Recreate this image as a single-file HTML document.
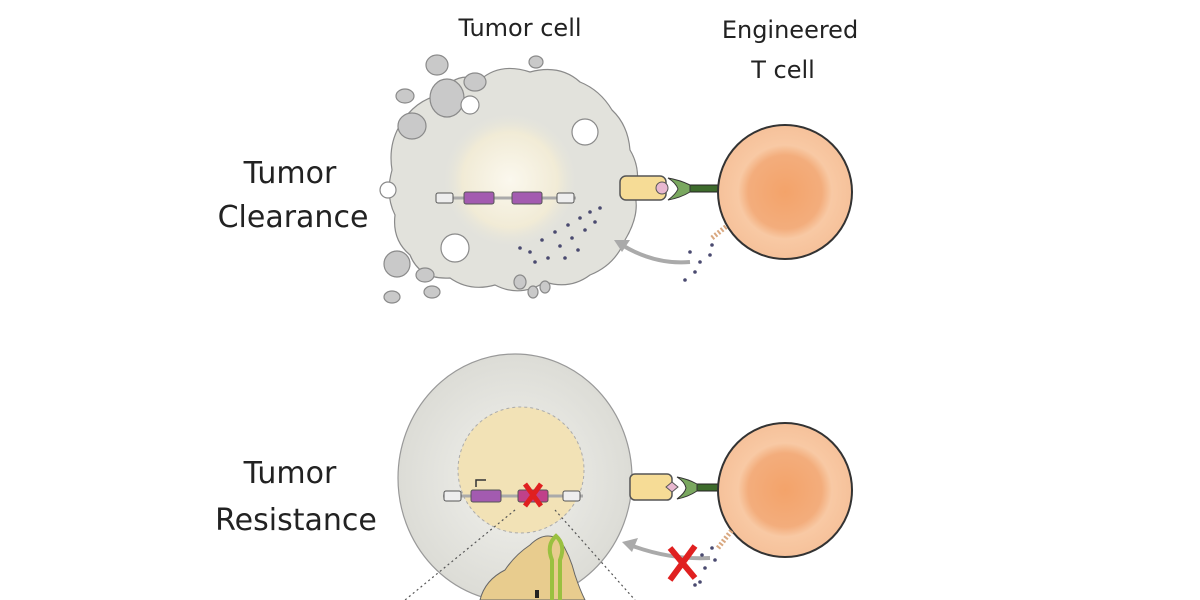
<!DOCTYPE html>
<html><head><style>
html,body{margin:0;padding:0;background:#fff;}
svg{display:block;}
text{font-family:"DejaVu Sans","Liberation Sans",sans-serif;fill:#222;}
</style></head><body>
<svg width="1200" height="600" viewBox="0 0 1200 600" xmlns="http://www.w3.org/2000/svg">
<defs>
<radialGradient id="nuc" cx="50%" cy="50%" r="50%">
<stop offset="0" stop-color="#fbf8ee"/><stop offset="0.7" stop-color="#f1ebd6"/><stop offset="1" stop-color="#e4e4dc" stop-opacity="0"/>
</radialGradient>
<radialGradient id="tc" cx="50%" cy="50%" r="50%">
<stop offset="0" stop-color="#f3a36a"/><stop offset="0.55" stop-color="#f3ad7c"/><stop offset="0.7" stop-color="#f8c9a4"/><stop offset="1" stop-color="#f6c19a"/>
</radialGradient>
<radialGradient id="cell2" cx="50%" cy="50%" r="50%">
<stop offset="0" stop-color="#f2f2ee"/><stop offset="1" stop-color="#dcdcd6"/>
</radialGradient>
</defs>

<!-- labels -->
<text x="520" y="36" font-size="24" text-anchor="middle">Tumor cell</text>
<text x="790" y="38" font-size="24" text-anchor="middle">Engineered</text>
<text x="783" y="78" font-size="24" text-anchor="middle">T cell</text>
<text x="290" y="183" font-size="30" text-anchor="middle">Tumor</text>
<text x="293" y="227" font-size="30" text-anchor="middle">Clearance</text>
<text x="290" y="483" font-size="30" text-anchor="middle">Tumor</text>
<text x="296" y="530" font-size="30" text-anchor="middle">Resistance</text>

<!-- TOP tumor cell -->
<g stroke="#8a8a8a" stroke-width="1.2">
<path d="M440,95 Q455,70 480,80 Q500,62 530,72 Q560,64 580,82 Q600,90 612,110 Q628,125 630,150 Q642,170 635,195 Q640,215 625,240 Q615,265 590,275 Q570,290 545,282 Q520,298 495,285 Q470,292 450,278 Q420,280 410,255 Q392,240 395,215 Q385,195 392,170 Q388,145 400,125 Q415,100 440,95Z" fill="#e2e2dc"/>
<circle cx="510" cy="180" r="68" fill="url(#nuc)" stroke="none"/>
<g fill="#c9c9c9">
<ellipse cx="437" cy="65" rx="11" ry="10"/><ellipse cx="405" cy="96" rx="9" ry="7"/>
<ellipse cx="447" cy="98" rx="17" ry="19"/><ellipse cx="412" cy="126" rx="14" ry="13"/>
<ellipse cx="475" cy="82" rx="11" ry="9"/><ellipse cx="536" cy="62" rx="7" ry="6"/>
<ellipse cx="397" cy="264" rx="13" ry="13"/><ellipse cx="425" cy="275" rx="9" ry="7"/>
<ellipse cx="432" cy="292" rx="8" ry="6"/><ellipse cx="392" cy="297" rx="8" ry="6"/>
<ellipse cx="520" cy="282" rx="6" ry="7"/><ellipse cx="533" cy="292" rx="5" ry="6"/><ellipse cx="545" cy="287" rx="5" ry="6"/>
</g>
<g fill="#fff">
<circle cx="585" cy="132" r="13"/><circle cx="455" cy="248" r="14"/><circle cx="388" cy="190" r="8"/><circle cx="470" cy="105" r="9"/>
</g>
</g>
<!-- top gene -->
<line x1="436" y1="198" x2="576" y2="198" stroke="#aaa" stroke-width="3"/>
<rect x="436" y="193" width="17" height="10" rx="2" fill="#eee" stroke="#555"/>
<rect x="464" y="192" width="30" height="12" rx="2" fill="#a35bb0" stroke="#555"/>
<rect x="512" y="192" width="30" height="12" rx="2" fill="#a35bb0" stroke="#555"/>
<rect x="557" y="193" width="17" height="10" rx="2" fill="#eee" stroke="#555"/>
<!-- dots top -->
<g fill="#4a4a70">
<circle cx="520" cy="248" r="1.8"/><circle cx="530" cy="252" r="1.8"/><circle cx="542" cy="240" r="1.8"/><circle cx="555" cy="232" r="1.8"/><circle cx="568" cy="225" r="1.8"/><circle cx="580" cy="218" r="1.8"/><circle cx="590" cy="212" r="1.8"/><circle cx="600" cy="208" r="1.8"/><circle cx="572" cy="238" r="1.8"/><circle cx="585" cy="230" r="1.8"/><circle cx="560" cy="246" r="1.8"/><circle cx="548" cy="258" r="1.8"/><circle cx="535" cy="262" r="1.8"/><circle cx="595" cy="222" r="1.8"/><circle cx="565" cy="258" r="1.8"/><circle cx="578" cy="250" r="1.8"/>
<circle cx="690" cy="252" r="1.8"/><circle cx="700" cy="262" r="1.8"/><circle cx="710" cy="255" r="1.8"/><circle cx="695" cy="272" r="1.8"/><circle cx="685" cy="280" r="1.8"/><circle cx="712" cy="245" r="1.8"/>
</g>
<path d="M712,238 L728,225" stroke="#d9a880" stroke-width="5" stroke-dasharray="2 2"/>
<path d="M690,262 Q655,265 622,245" fill="none" stroke="#aaa" stroke-width="4"/>
<path d="M614,240 L630,240 L622,252Z" fill="#aaa"/>
<!-- receptor top -->
<rect x="620" y="176" width="46" height="24" rx="6" fill="#f6dc96" stroke="#555" stroke-width="1.5"/>
<circle cx="662" cy="188" r="6" fill="#e8b8d0" stroke="#555"/>
<rect x="690" y="185" width="40" height="7" fill="#3d6b2c" stroke="#222"/>
<path d="M668,178 Q680,180 690,185 L690,192 Q680,198 668,200 Q676,194 678,189 Q676,183 668,178Z" fill="#7aa860" stroke="#333"/>
<!-- T cell top -->
<circle cx="785" cy="192" r="67" fill="url(#tc)" stroke="#333" stroke-width="2"/>

<!-- BOTTOM tumor cell -->
<ellipse cx="515" cy="478" rx="117" ry="124" fill="url(#cell2)" stroke="#999" stroke-width="1.2"/>
<circle cx="521" cy="470" r="63" fill="#f2e2b6" stroke="#aaa" stroke-dasharray="3 3"/>
<line x1="443" y1="496" x2="583" y2="496" stroke="#aaa" stroke-width="3"/>
<rect x="444" y="491" width="17" height="10" rx="2" fill="#eee" stroke="#555"/>
<rect x="471" y="490" width="30" height="12" rx="2" fill="#a35bb0" stroke="#555"/>
<path d="M476,487 L476,480 L486,480" fill="none" stroke="#333" stroke-width="1.5"/>
<rect x="518" y="490" width="30" height="12" rx="2" fill="#c0418a" stroke="#555"/>
<path d="M525,484 L541,506 M541,484 L525,506" stroke="#e02020" stroke-width="5"/>
<rect x="563" y="491" width="17" height="10" rx="2" fill="#eee" stroke="#555"/>
<!-- dotted zoom lines -->
<path d="M515,510 L405,600 M555,510 L635,600" stroke="#555" stroke-dasharray="2 3" stroke-width="1.2"/>
<!-- bottom blob -->
<path d="M480,600 Q485,580 505,570 Q515,555 530,545 Q545,530 560,540 Q570,555 575,575 Q580,590 585,600Z" fill="#e8cc8e" stroke="#666"/>
<path d="M552,600 L552,560 Q546,545 556,536 Q566,545 560,560 L560,600" fill="none" stroke="#9ac040" stroke-width="4"/>
<rect x="535" y="590" width="4" height="8" fill="#222"/>
<!-- receptor bottom -->
<rect x="630" y="474" width="42" height="26" rx="5" fill="#f6dc96" stroke="#555" stroke-width="1.5"/>
<path d="M666,487 L672,482 L678,487 L672,492Z" fill="#e8b8d0" stroke="#555"/>
<rect x="697" y="484" width="38" height="7" fill="#3d6b2c" stroke="#222"/>
<path d="M677,477 Q688,479 697,484 L697,491 Q688,497 677,499 Q685,493 686,488 Q685,482 677,477Z" fill="#7aa860" stroke="#333"/>
<circle cx="785" cy="490" r="67" fill="url(#tc)" stroke="#333" stroke-width="2"/>
<!-- bottom arrow & X -->
<path d="M710,558 Q670,560 630,545" fill="none" stroke="#aaa" stroke-width="4"/>
<path d="M622,542 L638,538 L632,552Z" fill="#aaa"/>
<path d="M670,548 L695,578 M695,546 L670,580" stroke="#e02020" stroke-width="6"/>
<g fill="#4a4a70"><circle cx="702" cy="555" r="1.8"/><circle cx="712" cy="548" r="1.8"/><circle cx="705" cy="568" r="1.8"/><circle cx="695" cy="585" r="1.8"/><circle cx="700" cy="582" r="1.8"/><circle cx="715" cy="560" r="1.8"/></g>
<path d="M718,548 L732,530" stroke="#d9a880" stroke-width="5" stroke-dasharray="2 2"/>
</svg>
</body></html>
